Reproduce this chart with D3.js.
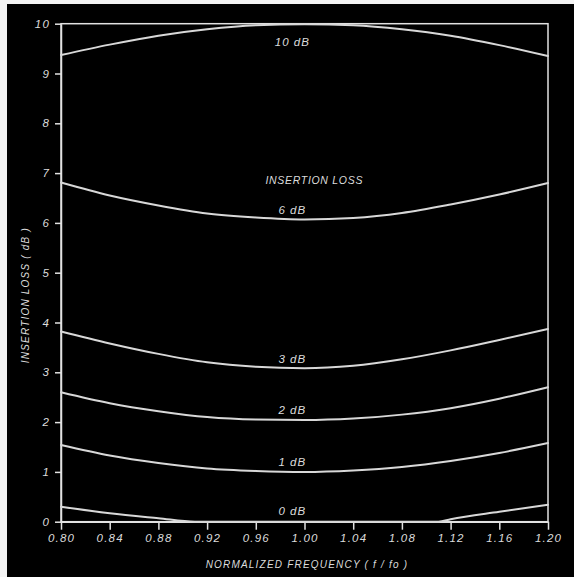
<!DOCTYPE html>
<html>
<head>
<meta charset="utf-8">
<script src="https://cdn.jsdelivr.net/npm/d3@7"></script>
<style>
  html, body { margin: 0; padding: 0; background: #000; }
  svg { display: block; }
  text { font-family: "Liberation Sans", "DejaVu Sans", sans-serif; font-style: italic; fill: #dcdcdc; }
</style>
</head>
<body>
<svg id="chart" width="574" height="577"></svg>
<script>
// ---- data ----
const freq = [0.80, 0.84, 0.88, 0.92, 0.96, 1.00, 1.04, 1.08, 1.12, 1.16, 1.20];
const loss10 = [9.37, 9.58, 9.76, 9.89, 9.97, 9.99, 9.97, 9.89, 9.76, 9.57, 9.35];
const loss6  = [6.81, 6.55, 6.35, 6.19, 6.11, 6.07, 6.10, 6.20, 6.37, 6.57, 6.80];
const loss3  = [3.82, 3.58, 3.37, 3.20, 3.11, 3.08, 3.13, 3.26, 3.44, 3.65, 3.87];
const loss2  = [2.60, 2.38, 2.22, 2.10, 2.05, 2.04, 2.07, 2.15, 2.28, 2.47, 2.70];
const loss1  = [1.54, 1.33, 1.18, 1.07, 1.02, 1.00, 1.03, 1.10, 1.22, 1.38, 1.58];
const freq0  = [0.80, 0.84, 0.88, 0.91, 0.96, 1.00, 1.04, 1.08, 1.11, 1.12, 1.16, 1.20];
const loss0  = [0.30, 0.17, 0.07, 0.00, 0.00, 0.00, 0.00, 0.00, 0.00, 0.05, 0.20, 0.34];
const curveLabels = ["10 dB", "6 dB", "3 dB", "2 dB", "1 dB", "0 dB"];
const labelValues = [9.62, 6.24, 3.25, 2.22, 1.18, 0.19];
const labelFreq = 0.99;
const xTickValues = [0.80, 0.84, 0.88, 0.92, 0.96, 1.00, 1.04, 1.08, 1.12, 1.16, 1.20];
const xTickLabels = ["0.80", "0.84", "0.88", "0.92", "0.96", "1.00", "1.04", "1.08", "1.12", "1.16", "1.20"];
const yTickValues = [0, 1, 2, 3, 4, 5, 6, 7, 8, 9, 10];
const yTickLabels = ["0", "1", "2", "3", "4", "5", "6", "7", "8", "9", "10"];
const xTitle = "NORMALIZED FREQUENCY ( f / fo )";
const yTitle = "INSERTION LOSS ( dB )";
const innerTitle = "INSERTION LOSS";

// ---- layout ----
const svg = d3.select("#chart");
const W = 574, H = 577;
svg.append("rect").attr("x", 0).attr("y", 0).attr("width", W).attr("height", H).attr("fill", "#000");
svg.append("rect").attr("x", 0).attr("y", 0).attr("width", W).attr("height", 4).attr("fill", "#f4f4f4");
svg.append("rect").attr("x", 0).attr("y", 0).attr("width", 7).attr("height", H).attr("fill", "#f4f4f4");

const x = d3.scaleLinear().domain([0.80, 1.20]).range([61, 548]);
const y = d3.scaleLinear().domain([0, 10]).range([521.7, 23.7]);

const axisColor = "#e2e2e2";
const curveColor = "#d8d8d8";

// frame (top and right)
svg.append("rect")
  .attr("x", x(0.80)).attr("y", y(10))
  .attr("width", x(1.20) - x(0.80)).attr("height", y(0) - y(10))
  .attr("fill", "none").attr("stroke", axisColor).attr("stroke-width", 1.5);

// axes
const xAxis = d3.axisBottom(x).tickValues(xTickValues)
  .tickFormat((d, i) => xTickLabels[i]).tickSize(8).tickPadding(4).tickSizeOuter(0);
const yAxis = d3.axisLeft(y).tickValues(yTickValues)
  .tickFormat((d, i) => yTickLabels[i]).tickSize(6).tickPadding(5).tickSizeOuter(0);

const gx = svg.append("g").attr("transform", `translate(0,${y(0)})`).call(xAxis);
const gy = svg.append("g").attr("transform", `translate(${x(0.80)},0)`).call(yAxis);
[gx, gy].forEach(a => {
  a.selectAll("path.domain").attr("stroke", axisColor).attr("stroke-width", 1.5);
  a.selectAll(".tick line").attr("stroke", axisColor).attr("stroke-width", 1.5);
  a.selectAll(".tick text").attr("fill", "#d4d4d4")
    .style("font-family", "'Liberation Sans', sans-serif")
    .style("font-style", "italic").style("font-size", "11.5px").style("letter-spacing", "1.2px");
});

// curves
const line = d3.line().x(d => x(d[0])).y(d => y(d[1])).curve(d3.curveMonotoneX);
const series = [
  freq.map((f, i) => [f, loss10[i]]),
  freq.map((f, i) => [f, loss6[i]]),
  freq.map((f, i) => [f, loss3[i]]),
  freq.map((f, i) => [f, loss2[i]]),
  freq.map((f, i) => [f, loss1[i]]),
  freq0.map((f, i) => [f, loss0[i]])
];
svg.append("g").selectAll("path").data(series).join("path")
  .attr("d", line).attr("fill", "none")
  .attr("stroke", curveColor).attr("stroke-width", 2).attr("stroke-linecap", "round");

// curve labels
svg.append("g").selectAll("text").data(curveLabels).join("text")
  .attr("x", x(labelFreq)).attr("y", (d, i) => y(labelValues[i]))
  .attr("text-anchor", "middle").attr("dominant-baseline", "middle")
  .style("font-size", "11.5px").style("letter-spacing", "1px")
  .text(d => d);

svg.append("text")
  .attr("x", x(1.008)).attr("y", y(6.83))
  .attr("text-anchor", "middle").attr("dominant-baseline", "middle")
  .style("font-size", "10.5px").style("letter-spacing", "0.7px")
  .text(innerTitle);

// axis titles
svg.append("text")
  .attr("x", x(1.002)).attr("y", 568)
  .attr("text-anchor", "middle")
  .style("font-size", "10px").style("letter-spacing", "1.2px")
  .text(xTitle);

svg.append("text")
  .attr("transform", `translate(29,${y(4.55)}) rotate(-90)`)
  .attr("text-anchor", "middle")
  .style("font-size", "10px").style("letter-spacing", "1.2px")
  .text(yTitle);
</script>
</body>
</html>
